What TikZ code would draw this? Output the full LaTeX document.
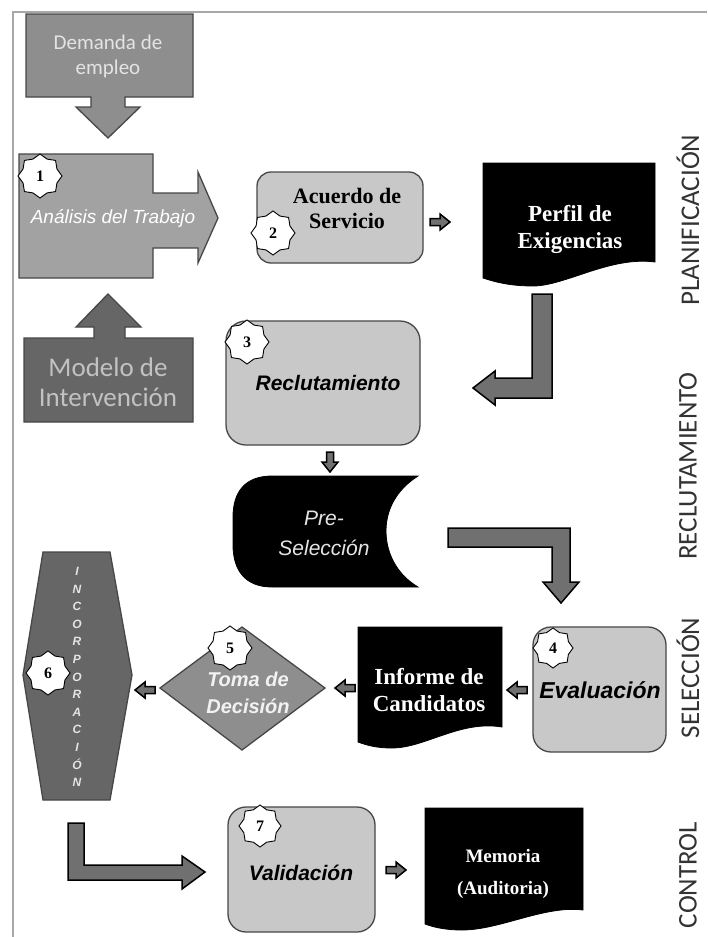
\documentclass[tikz,border=0pt]{standalone}
\usepackage{fontspec}
\setmainfont{Liberation Serif}
\newfontfamily\arialf{Liberation Sans}
\newfontfamily\calf{Carlito}
\usetikzlibrary{shapes.geometric}
\definecolor{lightbox}{HTML}{C8C8C8}
\definecolor{midgray}{HTML}{8E8E8E}
\definecolor{anagray}{HTML}{A2A2A2}
\definecolor{darkbox}{HTML}{666666}
\definecolor{edgegray}{HTML}{474747}
\definecolor{larrowfill}{HTML}{707070}
\definecolor{framegray}{HTML}{A8A8A8}
\definecolor{sidetext}{HTML}{333333}
\definecolor{lighttext}{HTML}{E4E4E4}
\tikzset{
  procbox/.style={draw=edgegray, fill=lightbox, line width=1.3pt, rounded corners=14pt},
  docshape/.style={fill=black, draw=black, line width=0.8pt},
  badge/.style={star, star points=8, star point ratio=1.2, draw=black, fill=white, line width=0.9pt,
    minimum size=44pt, inner sep=0pt, font=\bfseries\fontsize{16}{16}\selectfont},
  larr/.style={draw=black, fill=larrowfill, line width=1.5pt},
  callout/.style={draw=edgegray, line width=1.3pt},
  sidelabel/.style={rotate=90, text=sidetext, font=\calf\fontsize{27}{27}\selectfont},
  serifwhite/.style={text=white, align=center, font=\bfseries\fontsize{23}{27}\selectfont},
  serifblack/.style={text=black, align=center, font=\bfseries\fontsize{22}{25}\selectfont},
  sansbi/.style={text=black, font=\arialf\bfseries\itshape\fontsize{21}{25}\selectfont},
  smallarr/.pic={\draw[fill=larrowfill, line width=1.5pt] (-10,-3.5) -- (0,-3.5) -- (0,-8) -- (10,0) -- (0,8) -- (0,3.5) -- (-10,3.5) -- cycle;}
}
\begin{document}
\begin{tikzpicture}[x=1pt,y=-1pt]
\useasboundingbox (0,0) rectangle (707,937);
\fill[white] (0,0) rectangle (707,937);
% frame
\draw[framegray, line width=2pt] (13,937) -- (13,12) -- (707,12);

% Demanda de empleo
\draw[callout, fill=midgray] (26,14) -- (193,14) -- (193,97) -- (125,97) -- (125,107) -- (140,107)
  -- (108,138) -- (76,107) -- (91,107) -- (91,97) -- (26,97) -- cycle;
\node[text=lighttext, align=center, font=\calf\fontsize{21}{25}\selectfont] (tdem) at (108,56) {Demanda de\\empleo};

% Analisis del trabajo
\draw[callout, fill=anagray] (19,154) -- (153,154) -- (153,193) -- (198,193) -- (198,172) -- (218,218)
  -- (198,263) -- (198,248) -- (153,248) -- (153,278) -- (19,278) -- cycle;
\node[text=white, font=\arialf\itshape\fontsize{19}{19}\selectfont] (tana) at (113,218) {Análisis del Trabajo};
\node[badge] (b1) at (40,176) {1};

% Modelo de Intervencion
\draw[callout, fill=darkbox] (24,338) -- (94,338) -- (94,327) -- (76,327) -- (108,294) -- (141,327)
  -- (125,327) -- (125,338) -- (193,338) -- (193,422) -- (24,422) -- cycle;
\node[text=lighttext!85!black, align=center, font=\calf\fontsize{27}{30}\selectfont] (tmod) at (108,382) {Modelo de\\Intervención};

% Acuerdo de Servicio
\draw[procbox] (257,172) rectangle (423,263);
\node[serifblack] (tacu) at (347,208) {Acuerdo de\\Servicio};
\node[badge] (b2) at (273,233) {2};

% Perfil de Exigencias
\path[docshape] (483,163) -- (655,163) -- (655,262) .. controls (610,256) and (565,286) .. (533,286)
  .. controls (510,286) and (495,282) .. (483,278) -- cycle;
\node[serifwhite] (tper) at (570,229) {Perfil de\\Exigencias};
\pic at (440,222) {smallarr};

% L arrow to Reclutamiento
\draw[larr] (532,294) -- (552,294) -- (552,398) -- (495,398) -- (495,405) -- (473,388) -- (495,371)
  -- (495,378) -- (532,378) -- cycle;

% Reclutamiento
\draw[procbox, rounded corners=20pt] (226,321) rectangle (420,445);
\node[sansbi] (trec) at (328,383) {Reclutamiento};
\node[badge] (b3) at (247,342) {3};
\pic[rotate=-90] at (330,462) {smallarr};

% Pre-Seleccion
\path[docshape] (272,476) -- (418,476) .. controls (396,490) and (386,510) .. (386,531)
  .. controls (386,552) and (396,574) .. (418,587) -- (272,587)
  .. controls (245,587) and (233,570) .. (233,545) -- (233,517)
  .. controls (233,492) and (245,476) .. (272,476) -- cycle;
\node[text=lighttext, align=center, font=\arialf\itshape\fontsize{21}{30}\selectfont] (tpre) at (324,533) {Pre-\\Selección};

% L arrow to Evaluacion
\draw[larr] (448,528) -- (570,528) -- (570,582) -- (579,582) -- (561,603) -- (543,582) -- (552,582)
  -- (552,547) -- (448,547) -- cycle;

% Evaluacion
\draw[procbox, rounded corners=18pt] (533,627) rectangle (666,752);
\node[sansbi, font=\arialf\bfseries\itshape\fontsize{23}{25}\selectfont] (teva) at (600,690) {Evaluación};
\node[badge, minimum size=40pt] (b4) at (553,648) {4};
\pic[rotate=180] at (517,690) {smallarr};

% Informe de Candidatos
\path[docshape] (358,627) -- (502,627) -- (502,727) .. controls (460,720) and (425,748) .. (392,748)
  .. controls (376,748) and (366,745) .. (358,742) -- cycle;
\node[serifwhite] (tinf) at (429,690) {Informe de\\Candidatos};
\pic[rotate=180] at (345,688) {smallarr};

% Toma de Decision
\draw[callout, fill=midgray] (160,688) -- (242,627) -- (325,688) -- (242,750) -- cycle;
\node[text=white!95!black, align=center, font=\arialf\bfseries\itshape\fontsize{20}{27}\selectfont] (ttom) at (248,693) {Toma de\\Decisión};
\node[badge] (b5) at (230,648) {5};
\pic[rotate=180] at (145,690) {smallarr};

% Incorporacion
\draw[callout, fill=darkbox] (43,552) -- (110,552) -- (132,675) -- (110,800) -- (43,800) -- (23,675) -- cycle;
\node[text=lighttext, align=center, font=\arialf\bfseries\itshape\fontsize{12}{17.6}\selectfont] (tinc) at (77,677)
  {I\\N\\C\\O\\R\\P\\O\\R\\A\\C\\I\\Ó\\N};
\node[badge] (b6) at (48,673) {6};

% L arrow to Validacion
\draw[larr] (68,823) -- (84,823) -- (84,865) -- (182,865) -- (182,856) -- (205,872) -- (182,889)
  -- (182,880) -- (68,880) -- cycle;

% Validacion
\draw[procbox, rounded corners=18pt] (228,807) rectangle (375,932);
\node[sansbi] (tval) at (301,873) {Validación};
\node[badge, minimum size=42pt] (b7) at (260,826) {7};
\pic at (396,870) {smallarr};

% Memoria
\path[docshape] (425,808) -- (583,808) -- (583,910) .. controls (545,905) and (500,930) .. (462,930)
  .. controls (445,930) and (433,927) .. (425,924) -- cycle;
\node[serifwhite, font=\bfseries\fontsize{19}{32}\selectfont] (tmem) at (503,874) {Memoria\\(Auditoria)};

% side labels
\node[sidelabel] (lpla) at (688,220) {PLANIFICACIÓN};
\node[sidelabel] (lrec) at (688,466) {RECLUTAMIENTO};
\node[sidelabel] (lsel) at (688,678) {SELECCIÓN};
\node[sidelabel] (lcon) at (688,875) {CONTROL};
\end{tikzpicture}
\end{document}
